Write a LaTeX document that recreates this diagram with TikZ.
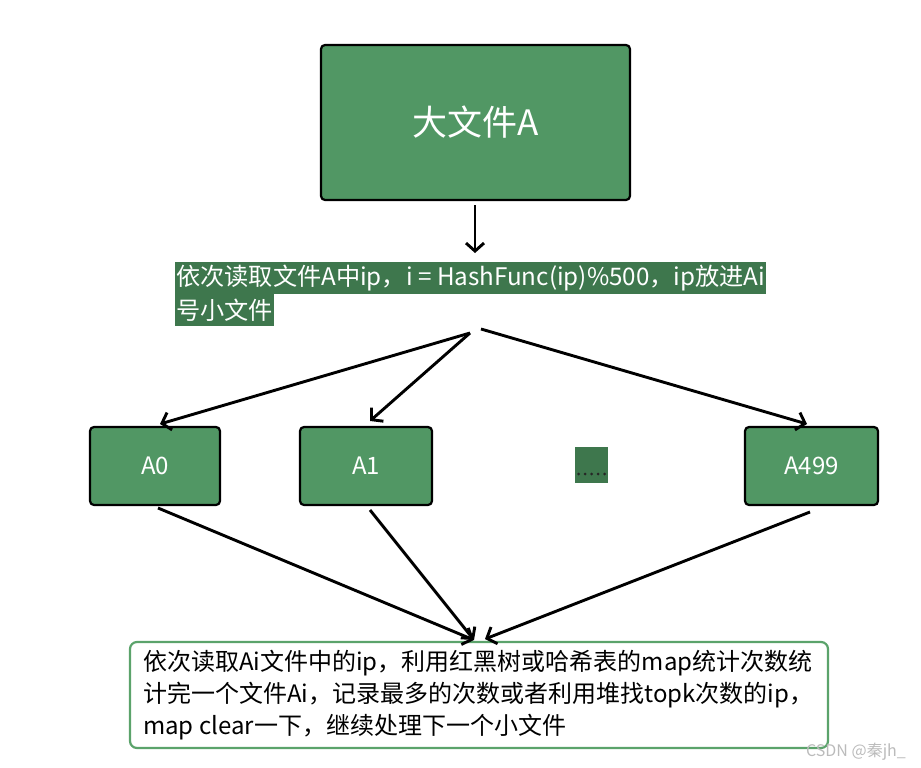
\documentclass[tikz,border=0pt]{standalone}
\usepackage{fontspec}
\setmainfont{Noto Sans CJK SC}
\usetikzlibrary{arrows.meta}
\definecolor{boxgreen}{HTML}{519764}
\definecolor{labgreen}{HTML}{3E774D}
\definecolor{edgegreen}{HTML}{5BA36B}
\definecolor{wmgray}{HTML}{BBBBBB}
\tikzset{
  gbox/.style={draw=black, line width=2.2pt, fill=boxgreen, rounded corners=4pt, text=white, inner sep=0pt},
  labline/.style={fill=labgreen, text=white, inner xsep=1pt, inner ysep=0pt, minimum height=32pt, anchor=west, font=\fontsize{24.2}{28}\selectfont},
  conn/.style={line width=2.9pt, -{Straight Barb[length=8pt,width=18pt,line width=2.9pt]}},
}
\begin{document}
\begin{tikzpicture}[x=1pt,y=-1pt]
\useasboundingbox (0,0) rectangle (921,768);
% big file
\node[gbox, minimum width=309pt, minimum height=155pt, font=\fontsize{35}{40}\selectfont] (big) at (475.5,122.5) {大文件A};
% label
\node[labline] (lab1) at (175,278) {依次读取文件A中ip，i = HashFunc(ip)\%500，ip放进Ai};
\node[labline] (lab2) at (175,310) {号小文件};
\coordinate (bs) at (475,205);
\coordinate (bt) at (475,253);
\draw[conn] (bs) -- (bt);
\coordinate (s1) at (470,333);
\coordinate (s2) at (481,329);
% small files
\node[gbox, minimum width=130pt, minimum height=78pt, font=\fontsize{24}{28}\selectfont] (a0) at (155,466) {A0};
\node[gbox, minimum width=132pt, minimum height=78pt, font=\fontsize{24}{28}\selectfont] (a1) at (366,466) {A1};
\node[fill=labgreen, minimum width=33pt, minimum height=36pt, inner sep=0pt] (dots) at (591.5,465) {};
\foreach \i in {0,1,2,3,4} \fill[black!85] (578.5+6.5*\i,474) circle (1.5pt);
\node[gbox, minimum width=133pt, minimum height=78pt, font=\fontsize{24}{28}\selectfont] (a499) at (811.5,466) {A499};
\coordinate (t0) at (160,424);
\coordinate (t1) at (370,421);
\coordinate (t499) at (807,424);
\draw[conn] (s1) -- (t0);
\draw[conn] (s1) -- (t1);
\draw[conn] (s2) -- (t499);
% bottom box
\node[draw=edgegreen, line width=2.2pt, rounded corners=7pt, minimum width=698pt, minimum height=106pt, inner sep=0pt] (res) at (479,695) {};
\node[anchor=west, inner sep=0pt, align=left, font=\fontsize{24}{32}\selectfont] (restxt) at (143,695) {依次读取Ai文件中的ip，利用红黑树或哈希表的map统计次数统\\计完一个文件Ai，记录最多的次数或者利用堆找topk次数的ip，\\map clear一下，继续处理下一个小文件};
\coordinate (f0) at (158,508);
\coordinate (f1) at (370,510);
\coordinate (f2) at (810,512);
\coordinate (b1) at (474,640);
\coordinate (b2) at (485,639);
\draw[conn] (f0) -- (b1);
\draw[conn] (f1) -- (b1);
\draw[conn] (f2) -- (b2);
% watermark
\node[text=wmgray, font=\fontsize{16}{18}\selectfont, anchor=east, inner sep=0pt] (wm) at (906,752) {CSDN @秦jh\_};
\end{tikzpicture}
\end{document}
